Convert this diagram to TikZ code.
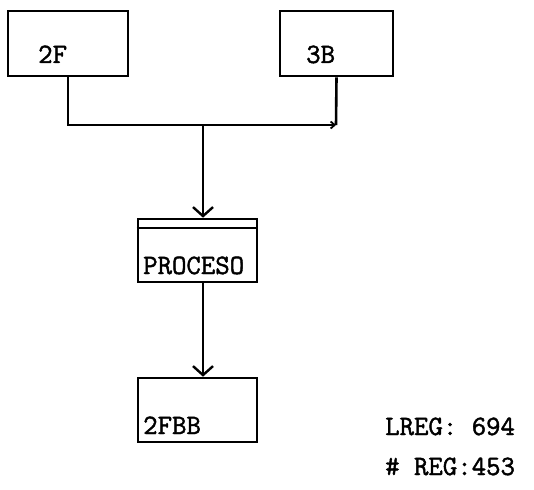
\documentclass[tikz,border=0pt]{standalone}
\usepackage{fontspec}
\newfontfamily\typefont{Latin Modern Mono}[AutoFakeBold=1.6]
\usetikzlibrary{arrows.meta,positioning,calc}

\tikzset{
  filebox/.style={draw, line width=2.6pt, minimum width=#1, minimum height=65pt, inner sep=0pt},
  tag/.style={anchor=base west, inner sep=0pt, font=\typefont\bfseries\fontsize{28}{32}\selectfont},
  flow/.style={line width=2.6pt, -{Straight Barb[length=9pt,width=20pt,line width=2.4pt]}},
}

\begin{document}
\begin{tikzpicture}[x=1pt, y=-1pt]
  \useasboundingbox (0,0) rectangle (534,489);
  % ---- input files ----
  \node[filebox=120pt] (f2) at (68,43.5) {};
  \node[filebox=113pt] (b3) at (336.5,43.5) {};
  \node[tag] (f2txt) at (38,63) {2F};
  \node[tag] (b3txt) at (306,63) {3B};
  % ---- process ----
  \node[filebox=119pt, minimum height=63pt] (proc) at (197.5,250.5) {};
  \draw[line width=2.4pt] ($(proc.north west)+(0,10)$) -- ($(proc.north east)+(0,10)$);
  \node[tag] (proctxt) at (143,274) {PROCESO};
  % ---- output file ----
  \node[filebox=119pt, minimum height=64pt] (out) at (197.5,410) {};
  \node[tag] (outtxt) at (143,434) {2FBB};
  % ---- connectors ----
  \coordinate (join) at (336,125);
  \coordinate (down) at (203,125);
  \draw[line width=2.6pt, -{Straight Barb[length=4pt,width=7pt,line width=1.8pt]}]
    (f2.south) |- (join);
  \draw[line width=2.6pt] (b3.south) -- (join);
  \draw[flow] (down) -- (down |- proc.north);
  \draw[flow] (proc.south -| down) -- (down |- out.north);
  % ---- totals ----
  \node[tag] (lreg) at (385,435) {LREG: 694};
  \node[tag] (nreg) at (385,475) {\# REG:453};
\end{tikzpicture}
\end{document}
